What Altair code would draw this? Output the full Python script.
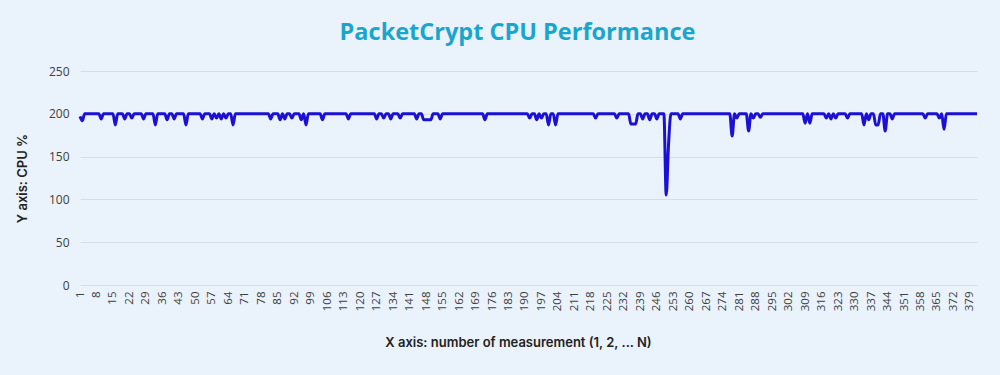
import altair as alt
import pandas as pd

cpu = [
    197, 192, 200, 200, 200, 200, 200, 200, 200, 194, 200, 200, 200, 200, 200, 187, 200, 200, 200, 194,
    200, 200, 195, 200, 200, 200, 200, 194, 200, 200, 200, 200, 187, 200, 200, 200, 200, 193, 200, 200,
    194, 200, 200, 200, 200, 187, 200, 200, 200, 200, 200, 200, 194, 200, 200, 200, 194, 200, 195, 200,
    194, 200, 195, 200, 200, 187, 200, 200, 200, 200, 200, 200, 200, 200, 200, 200, 200, 200, 200, 200,
    200, 194, 200, 200, 200, 193, 200, 194, 200, 200, 195, 200, 200, 200, 193, 200, 187, 200, 200, 200,
    200, 200, 200, 193, 200, 200, 200, 200, 200, 200, 200, 200, 200, 200, 194, 200, 200, 200, 200, 200,
    200, 200, 200, 200, 200, 200, 194, 200, 200, 195, 200, 200, 194, 200, 200, 200, 195, 200, 200, 200,
    200, 200, 200, 194, 200, 200, 193, 193, 193, 193, 200, 200, 200, 194, 200, 200, 200, 200, 200, 200,
    200, 200, 200, 200, 200, 200, 200, 200, 200, 200, 200, 200, 193, 200, 200, 200, 200, 200, 200, 200,
    200, 200, 200, 200, 200, 200, 200, 200, 200, 200, 200, 195, 200, 200, 193, 200, 195, 200, 200, 187,
    200, 200, 187, 200, 200, 200, 200, 200, 200, 200, 200, 200, 200, 200, 200, 200, 200, 200, 200, 195,
    200, 200, 200, 200, 200, 200, 200, 200, 195, 200, 200, 200, 200, 200, 188, 188, 188, 200, 200, 194,
    200, 200, 193, 200, 200, 194, 200, 200, 200, 105, 165, 200, 200, 200, 200, 194, 200, 200, 200, 200,
    200, 200, 200, 200, 200, 200, 200, 200, 200, 200, 200, 200, 200, 200, 200, 200, 200, 174, 200, 195,
    200, 200, 200, 200, 180, 200, 195, 200, 200, 196, 200, 200, 200, 200, 200, 200, 200, 200, 200, 200,
    200, 200, 200, 200, 200, 200, 200, 200, 189, 200, 189, 200, 200, 200, 200, 200, 200, 195, 200, 194,
    200, 195, 200, 200, 200, 200, 195, 200, 200, 200, 200, 200, 200, 187, 200, 193, 200, 200, 187, 187,
    200, 200, 180, 200, 200, 194, 200, 200, 200, 200, 200, 200, 200, 200, 200, 200, 200, 200, 200, 195,
    200, 200, 200, 200, 200, 195, 200, 182, 200, 200, 200, 200, 200, 200, 200, 200, 200, 200, 200, 200,
    200, 200,
]
measurement = list(range(1, len(cpu) + 1))
x_ticks = list(range(1, 380, 7))
y_ticks = [0, 50, 100, 150, 200, 250]

df = pd.DataFrame({"measurement": measurement, "cpu": cpu})

chart = (
    alt.Chart(df)
    .mark_line(color="#1c10d4", strokeWidth=3, interpolate="monotone")
    .encode(
        x=alt.X(
            "measurement:Q",
            scale=alt.Scale(domain=[1, len(cpu)], nice=False, zero=False),
            axis=alt.Axis(
                values=x_ticks,
                labelAngle=-90,
                labelFont="Open Sans",
                labelFontSize=11.5,
                labelColor="#404040",
                labelPadding=6,
                labelOverlap=False,
                labelFlush=False,
                ticks=False,
                domain=False,
                grid=False,
                title="X axis: number of measurement (1, 2, ... N)",
                titleFont="Inter",
                titleFontSize=13,
                titleFontWeight=600,
                titleColor="#222222",
                titleX=438,
                titleY=57,
                titleAlign="center",
                titleBaseline="middle",
            ),
        ),
        y=alt.Y(
            "cpu:Q",
            scale=alt.Scale(domain=[0, 250], nice=False),
            axis=alt.Axis(
                values=y_ticks,
                labelFont="Open Sans",
                labelFontSize=12,
                labelColor="#404040",
                labelPadding=11,
                ticks=False,
                domain=False,
                grid=True,
                gridColor="#D9DEE5",
                gridWidth=1,
                title="Y axis: CPU %",
                titleFont="Inter",
                titleFontSize=13,
                titleFontWeight=600,
                titleColor="#222222",
                titleX=-58,
                titleY=107,
                titleAngle=-90,
                titleAlign="center",
                titleBaseline="middle",
            ),
        ),
    )
    .properties(
        width=897,
        height=214,
        background="#EAF2FB",
        padding={"left": 80, "top": 71, "right": 23, "bottom": 90},
        autosize=alt.AutoSizeParams(type="none"),
        title=alt.TitleParams(
            text="PacketCrypt CPU Performance",
            font="Open Sans",
            fontSize=23.5,
            fontWeight="bold",
            color="#1AA6CC",
            anchor="middle",
            frame="group",
            baseline="middle",
            offset=9,
            dx=-11,
        ),
    )
    .configure_view(stroke=None)
)

chart.save("out.html", embed_options={"renderer": "svg", "actions": False})
